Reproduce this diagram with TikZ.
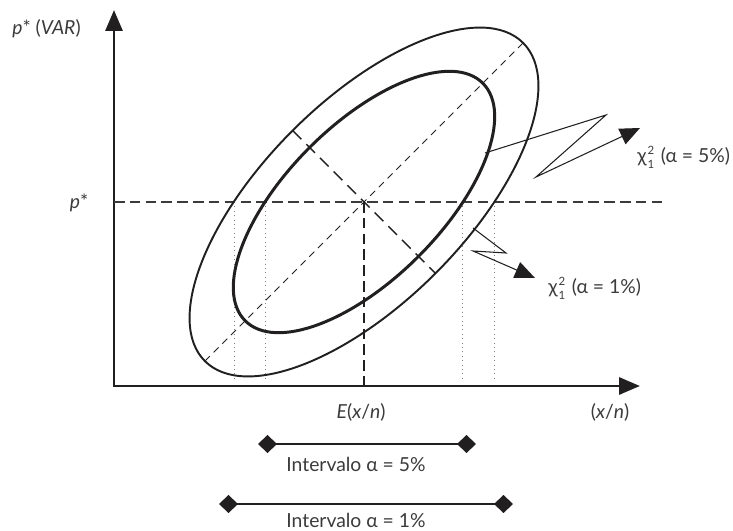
\documentclass[tikz,border=0pt]{standalone}
\usepackage{fontspec}
\setmainfont{Lato}
\usetikzlibrary{arrows.meta, positioning, calc}
\definecolor{Ink}{rgb}{0.13, 0.12, 0.12}
\definecolor{TextGray}{rgb}{0.23, 0.23, 0.23}
\newcommand{\chisq}{χ\kern0.6pt\rlap{\raisebox{0.85ex}{\fontsize{6.5}{7}\selectfont 2}}\raisebox{-0.6ex}{\fontsize{6.5}{7}\selectfont 1}\kern1pt}

\begin{document}
\begin{tikzpicture}[>={Triangle[length=0.42cm, width=0.34cm]}, Ink,
    font=\fontsize{11}{13}\selectfont,
    lbl/.style={inner sep=0pt, text=TextGray},
    dashln/.style={dash pattern=on 6pt off 3pt, line width=0.6pt},
    dotln/.style={dotted, line width=0.5pt, gray},
    squig/.style={line width=0.6pt, -{Triangle[length=0.4cm, width=0.34cm]}},
    interval/.style={line width=0.7pt, {Diamond[length=0.38cm, width=0.36cm]}-{Diamond[length=0.38cm, width=0.36cm]}}]
        \useasboundingbox (0,0) rectangle (14.66,10.62);

        % Axes
        \coordinate (O) at (2.28,2.90);
        \coordinate (ytop) at (2.28,10.42);
        \coordinate (xend) at (12.80,2.90);
        \draw [<->, line width=1.7pt] (ytop) |- (xend);

        % Centre of the two ellipses
        \coordinate (C) at (7.28,6.58);
        \coordinate (pend) at (13.30,6.58);

        % p* line and E(x/n)
        \draw [dashln, TextGray] (O |- C) -- (pend);
        \draw [dashln] (C) -- (C |- O);

        % Bounds of the intervals
        \foreach \xx in {4.68, 5.30, 9.24, 9.88}
            \draw [dotln] (\xx,6.58) -- (\xx,3.04);

        % Ellipses
        \draw [line width=1.1pt, rotate around={45:(C)}] (C) ellipse (4.5 and 2.02);
        \draw [line width=1.7pt, rotate around={45:(C)}] (C) ellipse (3.36 and 1.54);

        % Main and minor axes
        \coordinate (maja) at ($(C)+(225:4.5)$);
        \coordinate (majb) at ($(C)+(45:4.5)$);
        \coordinate (mina) at ($(C)+(135:2.02)$);
        \coordinate (minb) at ($(C)+(-45:2.02)$);
        \draw [dash pattern=on 4pt off 3pt, line width=0.5pt] (maja) -- (majb);
        \draw [dash pattern=on 7pt off 4pt, line width=0.8pt] (mina) -- (minb);

        % Labels of the axes
        \node [lbl, anchor=base] (pvar) at (0.93,9.92) {\textit{p}* (\textit{VAR})};
        \node [lbl, anchor=base] (plab) at (1.58,6.44) {\textit{p}*};
        \node [lbl, anchor=base] (elab) at (7.22,2.24) {\textit{E}(\textit{x}/\textit{n})};
        \node [lbl, anchor=base] (xlab) at (12.20,2.24) {(\textit{x}/\textit{n})};

        % Pointers to the ellipses
        \coordinate (fa) at (9.70,7.56);
        \coordinate (fb) at (12.12,8.32);
        \coordinate (fc) at (10.72,7.08);
        \coordinate (ftip) at (12.80,8.06);
        \draw [squig] (fa) -- (fb) -- (fc) -- (ftip);
        \node [lbl, anchor=base west] (chifive) at (12.74,7.36) {\chisq\ (α = 5\%)};

        \coordinate (oa) at (9.46,6.06);
        \coordinate (ob) at (10.12,5.56);
        \coordinate (oc) at (9.46,5.60);
        \coordinate (otip) at (10.70,5.06);
        \draw [squig] (oa) -- (ob) -- (oc) -- (otip);
        \node [lbl, anchor=base west] (chione) at (10.96,4.74) {\chisq\ (α = 1\%)};

        % Intervals
        \coordinate (fivel) at (5.16,1.74);
        \coordinate (fiver) at (9.52,1.74);
        \draw [interval] (fivel) -- (fiver);
        \node [lbl, anchor=base] (intfive) at (7.12,1.18) {Intervalo α = 5\%};

        \coordinate (onel) at (4.38,0.54);
        \coordinate (oner) at (10.26,0.54);
        \draw [interval] (onel) -- (oner);
        \node [lbl, anchor=base] (intone) at (7.12,0.06) {Intervalo α = 1\%};
    \end{tikzpicture}
\end{document}
